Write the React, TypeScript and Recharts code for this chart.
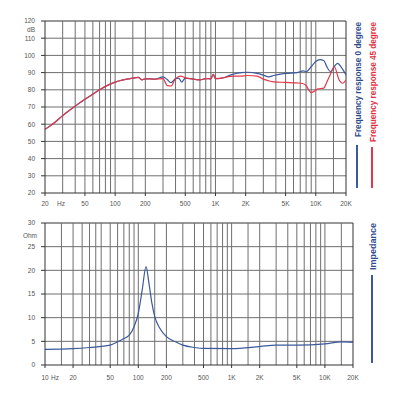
import React from "react";
import { LineChart, Line, XAxis, YAxis, ReferenceLine } from "recharts";

// frequency response, shared low end then 0° / 45° split
const respFreq0 = [20, 25, 30, 40, 50, 60, 70, 80, 100, 120, 150, 170, 185, 200, 250, 300, 330, 360, 400, 430, 460, 500, 600, 700, 800, 900, 950, 1000, 1200, 1400, 1800, 2100, 2600, 3000, 3400, 3800, 5000, 6500, 7500, 8000, 9000, 10000, 11000, 12000, 13000, 14000, 15500, 16500, 18000, 20000];
const respDb0 = [57, 61, 65, 70.5, 74.5, 77.5, 80, 82, 84.5, 85.8, 86.8, 87.2, 85.8, 86.4, 86.2, 87.5, 86, 84.2, 86.5, 86.8, 84.5, 86.8, 86.2, 85.8, 86.5, 86.4, 89, 86.5, 87, 88.5, 90, 90.2, 89.5, 88.5, 87.5, 88.3, 89.5, 90, 91, 90.5, 93.5, 96.5, 97.5, 97, 93, 90.5, 94, 95.4, 93, 88.6];

const respFreq45 = [20, 25, 30, 40, 50, 60, 70, 80, 100, 120, 150, 170, 185, 200, 250, 300, 330, 360, 400, 450, 500, 600, 700, 800, 900, 950, 1000, 1200, 1400, 1800, 2100, 2600, 3000, 3400, 3800, 5000, 6500, 7500, 8000, 8500, 9000, 10500, 12000, 13000, 14000, 15300, 17000, 18500, 20000];
const respDb45 = [57, 61, 65, 70.5, 74.5, 77.5, 80, 82, 84.5, 85.8, 86.8, 87.2, 85.8, 86.4, 86.2, 86.5, 82.5, 82.2, 86.5, 88, 87, 86.2, 85.8, 86.5, 86.4, 89, 86.5, 87, 87.8, 88, 88.3, 88, 86.2, 85.2, 84.6, 84.3, 84, 83.5, 82.5, 80, 78.3, 80.5, 81, 85, 89, 93.4, 86, 83.8, 85.7];

// impedance
const impFreq = [10, 20, 30, 50, 60, 70, 80, 90, 100, 110, 121, 130, 140, 150, 170, 200, 250, 300, 400, 500, 1000, 2000, 3000, 5000, 10000, 15000, 20000];
const impOhm = [3.3, 3.45, 3.7, 4.2, 4.9, 5.6, 6.3, 8.1, 10.9, 15.8, 20.8, 17.3, 13, 10.2, 7.75, 6, 4.9, 4.2, 3.7, 3.5, 3.45, 3.9, 4.2, 4.2, 4.45, 4.9, 4.8];

const topTicks = [20, 50, 100, 200, 500, 1000, 2000, 5000, 10000, 20000];
const botTicks = [10, 20, 50, 100, 200, 500, 1000, 2000, 5000, 10000, 20000];
const dbTicks = [20, 30, 40, 50, 60, 70, 80, 90, 100, 110, 120];
const ohmTicks = [0, 5, 10, 15, 20, 25, 30];

const topGridX = [30, 40, 50, 60, 70, 80, 90, 100, 150, 200, 300, 400, 500, 600, 700, 800, 900, 1000, 1500, 2000, 3000, 4000, 5000, 6000, 7000, 8000, 9000, 10000, 15000, 20000];
const botGridX = [15, 20, 25, 30, 35, 40, 50, 60, 70, 80, 90, 100, 150, 200, 300, 400, 500, 600, 700, 800, 900, 1000, 1500, 2000, 3000, 4000, 5000, 6000, 7000, 8000, 9000, 10000, 15000, 20000];

const zip = (fs: number[], vs: number[]) => fs.map((f, i) => ({ f, v: vs[i] }));
const data0 = zip(respFreq0, respDb0);
const data45 = zip(respFreq45, respDb45);
const dataImp = zip(impFreq, impOhm);

const BLUE = "#3b5a9c";
const RED = "#e2384a";
const GRID = "#6f6f6f";
const FONT = "'Liberation Sans', Arial, sans-serif";

const fmtHz = (v: number) => (v >= 1000 ? `${v / 1000}K` : `${v}`);

const FreqTick = (props: any) => {
  const { x, y, payload, hzOffset, first } = props;
  return (
    <g>
      <text x={x} y={y} dy="0.71em" textAnchor="middle" fontSize={6.5} fontFamily={FONT} fill="#555">
        {fmtHz(payload.value)}
      </text>
      {payload.value === first && (
        <text x={x + hzOffset} y={y} dy="0.71em" textAnchor="middle" fontSize={6.5} fontFamily={FONT} fill="#555">
          Hz
        </text>
      )}
    </g>
  );
};

const yTickStyle = { fontSize: 6.5, fontFamily: FONT, fill: "#555" };

export default function App() {
  return (
    <div style={{ position: "absolute", left: 0, top: 0, width: 400, height: 400, background: "#fff" }}>
      <div style={{ position: "absolute", left: 0, top: 0 }}>
        <LineChart width={400} height={215} margin={{ top: 21, right: 54, bottom: 0, left: 0 }}>
          <XAxis
            dataKey="f"
            type="number"
            scale="log"
            domain={[20, 20000]}
            ticks={topTicks}
            interval={0}
            allowDataOverflow
            height={22}
            tickSize={3}
            tickMargin={5}
            stroke="#333"
            tick={<FreqTick first={20} hzOffset={16} />}
          />
          <YAxis
            type="number"
            domain={[20, 120]}
            ticks={dbTicks}
            interval={0}
            width={45}
            tickSize={4}
            tickMargin={6}
            stroke="#333"
            tick={yTickStyle}
          />
          {dbTicks.slice(1).map((v) => (
            <ReferenceLine key={"h" + v} y={v} stroke={v === 120 ? "#333" : GRID} strokeWidth={1} />
          ))}
          {topGridX.map((f) => (
            <ReferenceLine key={"v" + f} x={f} stroke={f === 20000 ? "#333" : GRID} strokeWidth={1} />
          ))}
          <Line data={data0} dataKey="v" type="monotone" stroke={BLUE} strokeWidth={1.2} dot={false} isAnimationActive={false} />
          <Line data={data45} dataKey="v" type="monotone" stroke={RED} strokeWidth={1.2} dot={false} isAnimationActive={false} />
        </LineChart>
      </div>
      <div style={{ position: "absolute", left: 0, top: 215 }}>
        <LineChart width={400} height={172} margin={{ top: 8, right: 47, bottom: 0, left: 0 }}>
          <XAxis
            dataKey="f"
            type="number"
            scale="log"
            domain={[10, 20000]}
            ticks={botTicks}
            interval={0}
            allowDataOverflow
            height={22}
            tickSize={3}
            tickMargin={7}
            stroke="#333"
            tick={<FreqTick first={10} hzOffset={10} />}
          />
          <YAxis
            type="number"
            domain={[0, 30]}
            ticks={ohmTicks}
            interval={0}
            width={45}
            tickSize={4}
            tickMargin={6}
            stroke="#333"
            tick={yTickStyle}
          />
          {ohmTicks.slice(1).map((v) => (
            <ReferenceLine key={"h" + v} y={v} stroke={v === 30 ? "#333" : GRID} strokeWidth={1} />
          ))}
          {botGridX.map((f) => (
            <ReferenceLine key={"v" + f} x={f} stroke={f === 20000 ? "#333" : GRID} strokeWidth={1} />
          ))}
          <Line data={dataImp} dataKey="v" type="monotone" stroke={BLUE} strokeWidth={1.2} dot={false} isAnimationActive={false} />
        </LineChart>
      </div>
      <svg width={400} height={400} style={{ position: "absolute", left: 0, top: 0, pointerEvents: "none" }}>
        <text x={35} y={32} textAnchor="end" fontSize={6.5} fontFamily={FONT} fill="#555">dB</text>
        <text x={37} y={238} textAnchor="end" fontSize={6.5} fontFamily={FONT} fill="#555">Ohm</text>
        <text transform="translate(360.5,137) rotate(-90)" fontSize={9} fontWeight="bold" fontFamily={FONT} fill="#2f4c8f" textLength={115} lengthAdjust="spacingAndGlyphs">
          Frequency response 0 degree
        </text>
        <line x1={357} y1={145} x2={357} y2={188} stroke={BLUE} strokeWidth={2} />
        <text transform="translate(375.5,142) rotate(-90)" fontSize={9} fontWeight="bold" fontFamily={FONT} fill="#e2303f" textLength={120} lengthAdjust="spacingAndGlyphs">
          Frequency response 45 degree
        </text>
        <line x1={372} y1={147} x2={372} y2={188} stroke={RED} strokeWidth={2} />
        <text transform="translate(375.5,270) rotate(-90)" fontSize={9} fontWeight="bold" fontFamily={FONT} fill="#2f4c8f" textLength={47} lengthAdjust="spacingAndGlyphs">
          Impedance
        </text>
        <line x1={372} y1={275} x2={372} y2={363} stroke={BLUE} strokeWidth={2} />
      </svg>
    </div>
  );
}
